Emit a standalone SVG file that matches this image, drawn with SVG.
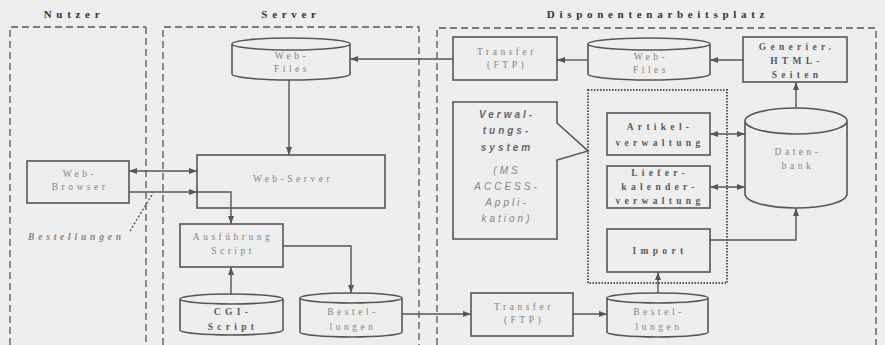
<svg xmlns="http://www.w3.org/2000/svg" width="885" height="345" viewBox="0 0 885 345">
<style>
.frame{fill:none;stroke:#5b5358;stroke-width:1.3;stroke-dasharray:7,4}
.shape{fill:none;stroke:#5b5358;stroke-width:1.6}
.dot{fill:none;stroke:#5b5358;stroke-width:2;stroke-dasharray:1.5,1.5}
.con{fill:none;stroke:#5b5358;stroke-width:1.4}
.title{font-family:"Liberation Serif",serif;font-weight:bold;font-size:11px;letter-spacing:4.7px;fill:#333;text-anchor:middle}
.t{font-family:"Liberation Serif",serif;font-size:9.5px;letter-spacing:3.5px;fill:#858585;text-anchor:middle}
.b{font-family:"Liberation Serif",serif;font-weight:bold;font-size:9.5px;letter-spacing:4.3px;fill:#5a5a5a;text-anchor:middle}
.v{font-family:"Liberation Sans",sans-serif;font-style:italic;font-size:10px;letter-spacing:3px;fill:#858585;text-anchor:middle}
.vb{font-weight:bold;fill:#666}
.lbl{font-family:"Liberation Serif",serif;font-style:italic;font-weight:bold;font-size:9.5px;letter-spacing:3.8px;fill:#858585}
</style>
<defs>
<marker id="ah" markerWidth="8" markerHeight="6" refX="8" refY="3" orient="auto-start-reverse" markerUnits="userSpaceOnUse">
<path d="M0,0 L8,3 L0,6 z" fill="#5b5358"/>
</marker>
</defs>
<rect width="885" height="345" fill="#eeeeef"/>

<g id="frames">
<text class="title" x="74" y="18">Nutzer</text>
<text class="title" x="291" y="18">Server</text>
<text class="title" x="658" y="18">Disponentenarbeitsplatz</text>
<path class="frame" d="M10,345 V27 H146"/>
<path class="frame" d="M146,27 V345" stroke-dasharray="3,2"/>
<path class="frame" d="M163,345 V27 H419 V345"/>
<path class="frame" d="M437,345 V28 H876 V345"/>
<rect class="dot" x="588" y="90" width="139" height="193"/>
</g>

<g id="webfiles-server">
<path class="shape" d="M232,44 A59,6 0 0 1 350,44 A59,6 0 0 1 232,44 V74 A59,6 0 0 0 350,74 V44"/>
<text class="t" x="292" y="59">Web-</text>
<text class="t" x="292" y="72">Files</text>
</g>

<g id="transfer-top">
<rect class="shape" x="453" y="37" width="104" height="43"/>
<text class="t" x="507" y="55">Transfer</text>
<text class="t" x="507" y="68">(FTP)</text>
</g>

<g id="webfiles-disp">
<path class="shape" d="M588,44 A61,6 0 0 1 710,44 A61,6 0 0 1 588,44 V74 A61,6 0 0 0 710,74 V44"/>
<text class="t" x="651" y="60">Web-</text>
<text class="t" x="651" y="73">Files</text>
</g>

<g id="generier">
<rect class="shape" x="743" y="37" width="104" height="45"/>
<text class="b" x="797" y="50">Generier.</text>
<text class="b" x="797" y="64">HTML-</text>
<text class="b" x="797" y="78">Seiten</text>
</g>

<g id="datenbank">
<path class="shape" d="M745,121 A51,13 0 0 1 847,121 A51,13 0 0 1 745,121 V194 A51,14 0 0 0 847,194 V121"/>
<text class="t" x="798" y="155">Daten-</text>
<text class="t" x="798" y="169">bank</text>
</g>

<g id="artikel">
<rect class="shape" x="607" y="113" width="103" height="42"/>
<text class="b" x="660" y="130">Artikel-</text>
<text class="b" x="660" y="146">verwaltung</text>
</g>

<g id="liefer">
<rect class="shape" x="607" y="166" width="103" height="42"/>
<text class="b" x="660" y="176">Liefer-</text>
<text class="b" x="660" y="190">kalender-</text>
<text class="b" x="660" y="204">verwaltung</text>
</g>

<g id="import">
<rect class="shape" x="607" y="229" width="103" height="43"/>
<text class="b" x="660" y="254">Import</text>
</g>

<g id="verwaltungssystem">
<path class="shape" d="M557,123 V102 H453 V239 H557 V160 L588,151 Z"/>
<text class="v vb" x="507" y="118">Verwal-</text>
<text class="v vb" x="507" y="134">tungs-</text>
<text class="v vb" x="507" y="151">system</text>
<text class="v" x="507" y="174">(MS</text>
<text class="v" x="507" y="190">ACCESS-</text>
<text class="v" x="507" y="206">Appli-</text>
<text class="v" x="507" y="222">kation)</text>
</g>

<g id="webbrowser">
<rect class="shape" x="27" y="161" width="102" height="42"/>
<text class="t" x="80" y="177">Web-</text>
<text class="t" x="80" y="190">Browser</text>
</g>

<g id="webserver">
<rect class="shape" x="197" y="155" width="188" height="53"/>
<text class="t" x="293" y="182">Web-Server</text>
</g>

<g id="ausfuehrung">
<rect class="shape" x="180" y="224" width="103" height="43"/>
<text class="t" x="233" y="240">Ausführung</text>
<text class="t" x="233" y="254">Script</text>
</g>

<g id="cgi">
<path class="shape" d="M180,299 A51.5,5 0 0 1 283,299 A51.5,5 0 0 1 180,299 V330 A51.5,5 0 0 0 283,330 V299"/>
<text class="b" x="233" y="315">CGI-</text>
<text class="b" x="233" y="330">Script</text>
</g>

<g id="bestellungen-server">
<path class="shape" d="M300,298 A51,5 0 0 1 402,298 A51,5 0 0 1 300,298 V332 A51,5 0 0 0 402,332 V298"/>
<text class="t" x="353" y="315">Bestel-</text>
<text class="t" x="353" y="330">lungen</text>
</g>

<g id="transfer-bottom">
<rect class="shape" x="471" y="293" width="102" height="43"/>
<text class="t" x="524" y="310">Transfer</text>
<text class="t" x="524" y="323">(FTP)</text>
</g>

<g id="bestellungen-disp">
<path class="shape" d="M607,298 A50.5,5 0 0 1 708,298 A50.5,5 0 0 1 607,298 V332 A50.5,5 0 0 0 708,332 V298"/>
<text class="t" x="659" y="315">Bestel-</text>
<text class="t" x="659" y="330">lungen</text>
</g>

<g id="label-bestellungen">
<text class="lbl" x="28" y="240">Bestellungen</text>
</g>

<g id="connectors">
<path class="con" d="M289,80 V155" marker-end="url(#ah)"/>
<path class="con" d="M453,59 H350" marker-end="url(#ah)"/>
<path class="con" d="M588,60 H557" marker-end="url(#ah)"/>
<path class="con" d="M743,60 H710" marker-end="url(#ah)"/>
<path class="con" d="M796,108 V82" marker-end="url(#ah)"/>
<path class="con" d="M710,134 H745" marker-start="url(#ah)" marker-end="url(#ah)"/>
<path class="con" d="M710,187 H745" marker-start="url(#ah)" marker-end="url(#ah)"/>
<path class="con" d="M710,240 H796 V208" marker-end="url(#ah)"/>
<path class="con" d="M658,293 V272" marker-end="url(#ah)"/>
<path class="con" d="M573,314 H607" marker-end="url(#ah)"/>
<path class="con" d="M402,314 H471" marker-end="url(#ah)"/>
<path class="con" d="M283,246 H351 V293" marker-end="url(#ah)"/>
<path class="con" d="M231,295 V267" marker-end="url(#ah)"/>
<path class="con" d="M129,171 H197" marker-start="url(#ah)" marker-end="url(#ah)"/>
<path class="con" d="M129,192 H197" marker-end="url(#ah)"/>
<path class="con" d="M197,192 H231 V224" marker-end="url(#ah)"/>
<path class="con" d="M130,231 L153,193" stroke-dasharray="2,2"/>
</g>
</svg>
